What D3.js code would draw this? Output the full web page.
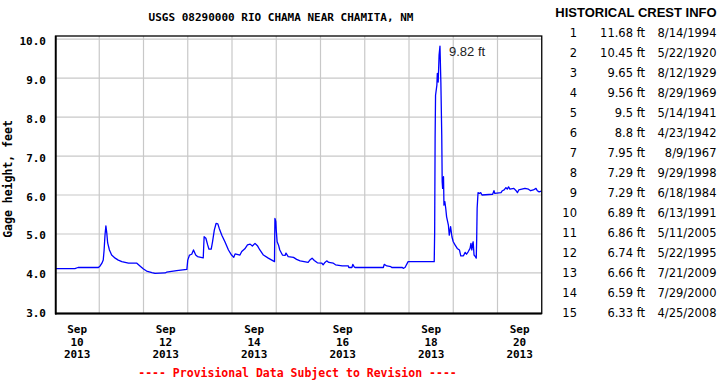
<!DOCTYPE html>
<html><head><meta charset="utf-8">
<script src="https://cdn.jsdelivr.net/npm/d3@7/dist/d3.min.js"></script>
<style>
html,body{margin:0;padding:0;background:#fff;}
svg{display:block;}
</style></head>
<body>
<script>
// ---- data ----
const chartTitle = "USGS 08290000 RIO CHAMA NEAR CHAMITA, NM";
const yLabel = "Gage height, feet";
const footNote = "---- Provisional Data Subject to Revision ----";
// time as decimal day of September 2013
const sepDay = [10.00,10.45,10.52,10.98,11.02,11.06,11.09,11.11,11.13,11.15,11.17,11.19,11.23,11.28,11.36,11.43,11.51,11.66,11.85,11.92,
12.00,12.07,12.19,12.26,12.49,12.52,12.75,12.98,13.00,13.04,13.09,13.13,13.18,13.22,13.35,13.37,13.41,13.45,13.48,13.53,
13.56,13.60,13.64,13.68,13.71,13.77,13.84,13.92,13.99,14.04,14.07,14.18,14.22,14.29,14.35,14.41,14.46,14.52,14.58,14.63,
14.71,14.82,14.96,14.97,14.99,15.00,15.02,15.05,15.08,15.14,15.20,15.22,15.27,15.39,15.46,15.54,15.72,15.76,15.81,15.86,
15.93,16.03,16.06,16.10,16.14,16.19,16.29,16.34,16.49,16.63,16.64,16.71,16.73,16.76,16.78,17.42,17.44,17.50,17.59,17.61,
17.85,17.87,17.91,17.98,18.57,18.58,18.59,18.60,18.63,18.64,18.66,18.68,18.70,18.72,18.725,18.74,18.75,18.76,18.78,18.79,
18.81,18.83,18.85,18.89,18.91,18.94,18.97,19.00,19.04,19.09,19.14,19.17,19.23,19.27,19.30,19.34,19.38,19.40,19.42,19.44,
19.45,19.47,19.50,19.52,19.53,19.54,19.56,19.59,19.62,19.65,19.89,19.92,19.94,20.08,20.11,20.15,20.19,20.22,20.25,20.28,
20.37,20.42,20.45,20.48,20.55,20.62,20.70,20.75,20.81,20.87,20.90,20.94,20.99];
const gageHeight = [4.11,4.11,4.14,4.14,4.18,4.25,4.33,4.59,4.97,5.21,5.03,4.77,4.59,4.46,4.38,4.33,4.29,4.25,4.25,4.18,
4.10,4.05,4.01,3.99,4.00,4.02,4.06,4.09,4.33,4.46,4.48,4.59,4.46,4.42,4.39,4.93,4.89,4.72,4.61,4.61,
4.80,5.10,5.27,5.26,5.15,4.97,4.80,4.59,4.46,4.40,4.49,4.46,4.55,4.62,4.72,4.74,4.69,4.76,4.69,4.59,
4.46,4.38,4.29,5.40,5.32,5.10,4.80,4.72,4.59,4.46,4.45,4.51,4.42,4.40,4.35,4.31,4.27,4.33,4.38,4.32,
4.26,4.25,4.21,4.27,4.31,4.27,4.25,4.21,4.18,4.18,4.14,4.14,4.22,4.16,4.14,4.14,4.22,4.18,4.16,4.14,
4.14,4.12,4.14,4.29,4.29,5.06,7.45,8.56,8.82,9.12,8.90,9.59,9.82,8.90,8.56,7.54,6.34,6.17,6.47,5.74,
5.83,5.66,5.44,5.23,4.97,5.19,4.93,4.80,4.72,4.63,4.59,4.44,4.44,4.53,4.48,4.55,4.63,4.76,4.59,4.76,
4.80,4.46,4.42,4.38,4.89,5.66,6.06,6.04,6.06,6.00,6.02,6.11,6.04,6.06,6.11,6.13,6.19,6.15,6.21,6.15,
6.17,6.11,6.06,6.13,6.15,6.17,6.15,6.11,6.13,6.17,6.11,6.08,6.10];
const peakLabel = "9.82 ft";
const yTicks = [3,4,5,6,7,8,9,10];
const xLabelDays = [10,12,14,16,18,20];
const gridDays = [11,12,13,14,15,16,17,18,19,20];
const crestTitle = "HISTORICAL CREST INFO";
const crestRank = [1,2,3,4,5,6,7,8,9,10,11,12,13,14,15];
const crestHeight = ["11.68","10.45","9.65","9.56","9.5","8.8","7.95","7.29","7.29","6.89","6.86","6.74","6.66","6.59","6.33"];
const crestDate = ["8/14/1994","5/22/1920","8/12/1929","8/29/1969","5/14/1941","4/23/1942","8/9/1967","9/29/1998","6/18/1984","6/13/1991","5/11/2005","5/22/1995","7/21/2009","7/29/2000","4/25/2008"];

// ---- drawing ----
const W = 720, H = 380;
const toDate = d => new Date(Date.UTC(2013, 8, 1) + (d - 1) * 864e5);
const plot = {l: 55, r: 541.75, t: 36, b: 313.5};
const x = d3.scaleUtc().domain([toDate(10), toDate(21)]).range([plot.l, plot.r]);
const y = d3.scaleLinear().domain([2.96, 10.08]).range([plot.b, plot.t]);
const mono = "'DejaVu Sans Mono', 'Liberation Mono', monospace";

const svg = d3.select("body").append("svg").attr("width", W).attr("height", H);

// title
svg.append("text").attr("x", 281).attr("y", 21).attr("text-anchor", "middle")
  .attr("font-family", mono).attr("font-weight", "bold").attr("font-size", 11).attr("fill", "#000")
  .text(chartTitle);

// gridlines
const g = svg.append("g");
g.selectAll("line.h").data(yTicks.filter(v => v > 3)).join("line")
  .attr("x1", plot.l).attr("x2", plot.r).attr("y1", d => y(d)).attr("y2", d => y(d))
  .attr("stroke", "#c8c8c8").attr("stroke-width", 1.2);
g.selectAll("line.v").data(gridDays).join("line")
  .attr("x1", d => x(toDate(d))).attr("x2", d => x(toDate(d))).attr("y1", plot.t).attr("y2", plot.b)
  .attr("stroke", "#c8c8c8").attr("stroke-width", 1.2);

// data line
const pts = sepDay.map((d, i) => [toDate(d), gageHeight[i]]);
svg.append("path").datum(pts)
  .attr("d", d3.line().x(p => x(p[0])).y(p => y(p[1])))
  .attr("fill", "none").attr("stroke", "#0000ff").attr("stroke-width", 1.3).attr("stroke-linejoin", "round");

// frame
svg.append("rect").attr("x", plot.l + 0.5).attr("y", plot.t).attr("width", plot.r - plot.l - 0.5).attr("height", plot.b - plot.t)
  .attr("fill", "none").attr("stroke", "#000").attr("stroke-width", 1.3);
svg.append("line").attr("x1", plot.l + 0.8).attr("x2", plot.l + 0.8).attr("y1", plot.t).attr("y2", plot.b + 1)
  .attr("stroke", "#000").attr("stroke-width", 1.8);
svg.append("line").attr("x1", plot.l).attr("x2", plot.r).attr("y1", plot.b).attr("y2", plot.b)
  .attr("stroke", "#000").attr("stroke-width", 2);

// y axis labels
svg.append("g").selectAll("text").data(yTicks).join("text")
  .attr("x", 46).attr("y", d => y(d) + 5.5).attr("text-anchor", "end")
  .attr("font-family", mono).attr("font-weight", "bold").attr("font-size", 11).attr("fill", "#000")
  .text(d => d3.format(".1f")(d));
svg.append("text").attr("transform", "translate(12,179) rotate(-90)").attr("text-anchor", "middle")
  .attr("font-family", mono).attr("font-weight", "bold").attr("font-size", 11.5).attr("fill", "#000")
  .text(yLabel);

// x axis labels
const xl = svg.append("g").selectAll("g").data(xLabelDays).join("g")
  .attr("transform", d => `translate(${x(toDate(d + 0.5))},0)`);
[[d => d3.utcFormat("%b")(toDate(d)), 332.5], [d => String(d), 345.5], [d => d3.utcFormat("%Y")(toDate(d)), 358.3]]
  .forEach(([f, yy]) => xl.append("text").attr("y", yy).attr("text-anchor", "middle")
    .attr("font-family", mono).attr("font-weight", "bold").attr("font-size", 11).attr("fill", "#000").text(f));

// footnote
svg.append("text").attr("x", 297.5).attr("y", 377).attr("text-anchor", "middle")
  .attr("font-family", mono).attr("font-weight", "bold").attr("font-size", 11.5).attr("fill", "#ff0000")
  .text(footNote);

// peak annotation
const iPeak = d3.maxIndex(gageHeight);
svg.append("text").attr("x", x(toDate(sepDay[iPeak])) + 9).attr("y", 56)
  .attr("font-family", "'Liberation Sans', Arial, sans-serif").attr("font-size", 13).attr("fill", "#222")
  .text(peakLabel);

// crest table
svg.append("text").attr("x", 636).attr("y", 17.3).attr("text-anchor", "middle")
  .attr("font-family", "'Liberation Sans', Arial, sans-serif").attr("font-weight", "bold").attr("font-size", 13).attr("fill", "#000")
  .text(crestTitle);
const rows = svg.append("g").selectAll("g").data(crestRank).join("g")
  .attr("transform", (d, i) => `translate(0,${36.7 + i * 20.04})`)
  .attr("font-family", "'DejaVu Sans', Verdana, sans-serif").attr("font-size", 11.5).attr("fill", "#000");
rows.append("text").attr("x", 577).attr("text-anchor", "end").text(d => d);
rows.append("text").attr("x", 645).attr("text-anchor", "end").text((d, i) => crestHeight[i] + " ft");
rows.append("text").attr("x", 716.5).attr("text-anchor", "end").text((d, i) => crestDate[i]);
</script>
</body></html>
